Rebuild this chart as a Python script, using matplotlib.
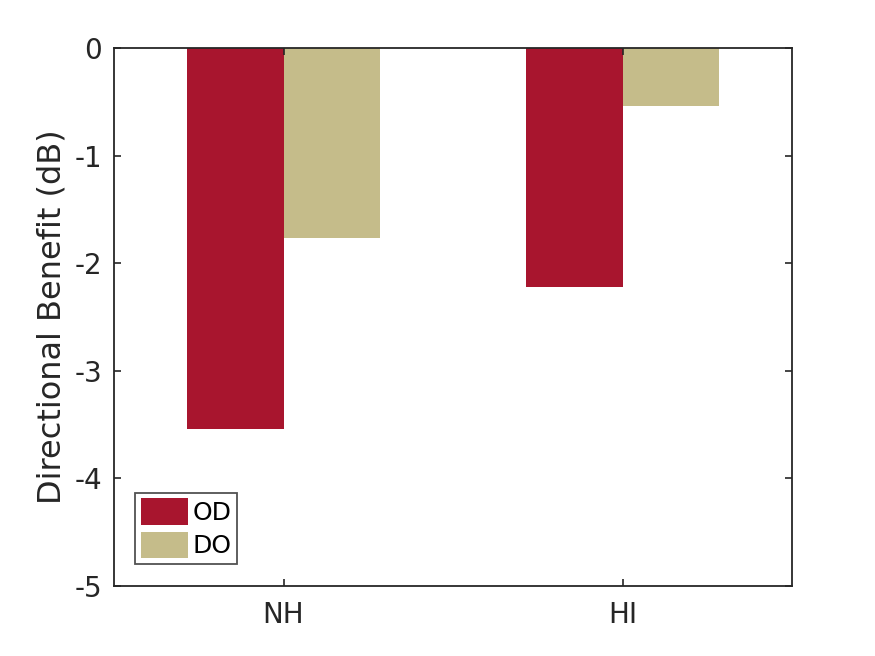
import matplotlib
matplotlib.use("Agg")
import matplotlib.pyplot as plt
import numpy as np

categories = ["NH", "HI"]
series_names = ["OD", "DO"]
od_values = [-3.54, -2.22]
do_values = [-1.77, -0.54]
yticks = [-5, -4, -3, -2, -1, 0]

colors = ["#A8152E", "#C5BC8A"]
axc = "#262626"

fig = plt.figure(figsize=(8.75, 6.56), dpi=100)
ax = fig.add_axes([114/875, 1-586/656, (792-114)/875, (586-48)/656])

x = np.arange(1, len(categories)+1)
w = 0.285
ax.bar(x - w/2, od_values, w, color=colors[0], label=series_names[0])
ax.bar(x + w/2, do_values, w, color=colors[1], label=series_names[1])

ax.set_xlim(0.5, 2.5)
ax.set_ylim(-5, 0)
ax.set_xticks(x)
ax.set_xticklabels(categories)
ax.set_yticks(yticks)
ax.set_yticklabels([str(t) for t in yticks])
ax.tick_params(direction="in", length=5, width=1.2, colors=axc, labelsize=20, top=True, right=True,
               labeltop=False, labelright=False)
ax.tick_params(axis="y", pad=8.6)
ax.tick_params(axis="x", pad=11)
for s in ax.spines.values():
    s.set_color(axc)
    s.set_linewidth(1.3)
ax.set_ylabel("Directional Benefit (dB)", fontsize=23, color=axc)
ax.yaxis.set_label_coords((68-114)/678, 0.5)
leg = ax.legend(loc="lower left", bbox_to_anchor=(0.031, 0.041), fontsize=18, frameon=True, fancybox=False,
                edgecolor=axc, handlelength=1.88, handleheight=1.25, handletextpad=0.2, borderpad=0.22,
                labelspacing=0.28, borderaxespad=0)
leg.get_frame().set_linewidth(1.3)
for t in leg.get_texts():
    t.set_color("black")
fig.savefig("out.png", dpi=100, facecolor="white")
